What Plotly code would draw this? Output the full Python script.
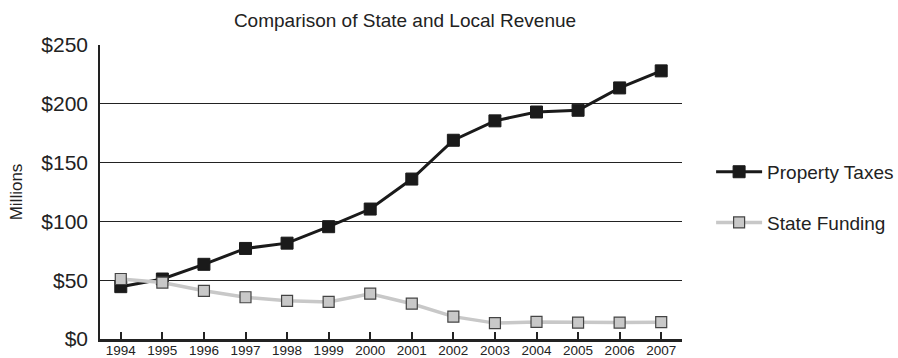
import plotly.graph_objects as go

years = list(range(1994, 2008))
property_taxes = [44.5, 51, 63.5, 77, 81.5, 95.5, 110.5, 136, 169, 185.5, 193, 194.5, 213.5, 228]
state_funding = [51, 48, 41, 35.5, 32.5, 31.5, 38.5, 30, 19, 13.5, 14.5, 14, 14, 14.3]
y_ticks = [0, 50, 100, 150, 200, 250]
y_tick_text = ["$0", "$50", "$100", "$150", "$200", "$250"]

font_family = "Liberation Sans, Arial, Helvetica, sans-serif"

fig = go.Figure()
fig.add_trace(go.Scatter(
    x=years, y=property_taxes, name="Property Taxes", mode="lines+markers",
    legendgroup="pt",
    line=dict(color="#1a1a1a", width=3),
    marker=dict(symbol="square", size=12, color="#1a1a1a",
                line=dict(color="#1a1a1a", width=1)),
))
fig.add_trace(go.Scatter(
    x=years, y=state_funding, name="State Funding", mode="lines+markers",
    legendgroup="sf",
    line=dict(color="#c8c8c8", width=3.5),
    marker=dict(symbol="square", size=11, color="#c8c8c8",
                line=dict(color="#444444", width=1.2)),
))

fig.update_layout(
    width=898, height=358,
    margin=dict(l=100, r=216, t=45, b=19, autoexpand=False),
    paper_bgcolor="white", plot_bgcolor="white",
    font=dict(family=font_family, color="#222222"),
    title=dict(text="Comparison of State and Local Revenue",
               x=405 / 898, xanchor="center",
               y=1 - 20 / 358, yanchor="middle",
               font=dict(size=19, family=font_family, color="#222222")),
    showlegend=True,
    legend=dict(x=1.05, xanchor="left", y=0.633, yanchor="top",
                itemwidth=46,
                font=dict(size=19, family=font_family, color="#222222"),
                tracegroupgap=23, bgcolor="rgba(0,0,0,0)"),
    xaxis=dict(
        range=[1993.5, 2007.5], tickmode="array", tickvals=years,
        ticktext=[str(y) for y in years], automargin=False,
        ticks="inside", ticklen=7, tickwidth=1.5, tickcolor="#222222",
        ticklabelstandoff=-3,
        showline=True, linecolor="#222222", linewidth=2.5,
        showgrid=False, zeroline=False,
        tickfont=dict(size=13.5, family=font_family, color="#222222"),
    ),
    yaxis=dict(
        range=[0, 250], tickmode="array", tickvals=y_ticks, ticktext=y_tick_text,
        ticks="", ticklabelstandoff=6, automargin=False,
        showline=True, linecolor="#222222", linewidth=1.5,
        showgrid=True, gridcolor="#222222", gridwidth=1.2, zeroline=False,
        tickfont=dict(size=21, family=font_family, color="#222222"),
        title=dict(text="Millions", standoff=14,
                   font=dict(size=17, family=font_family, color="#222222")),
    ),
)

fig.write_html("out.html")
